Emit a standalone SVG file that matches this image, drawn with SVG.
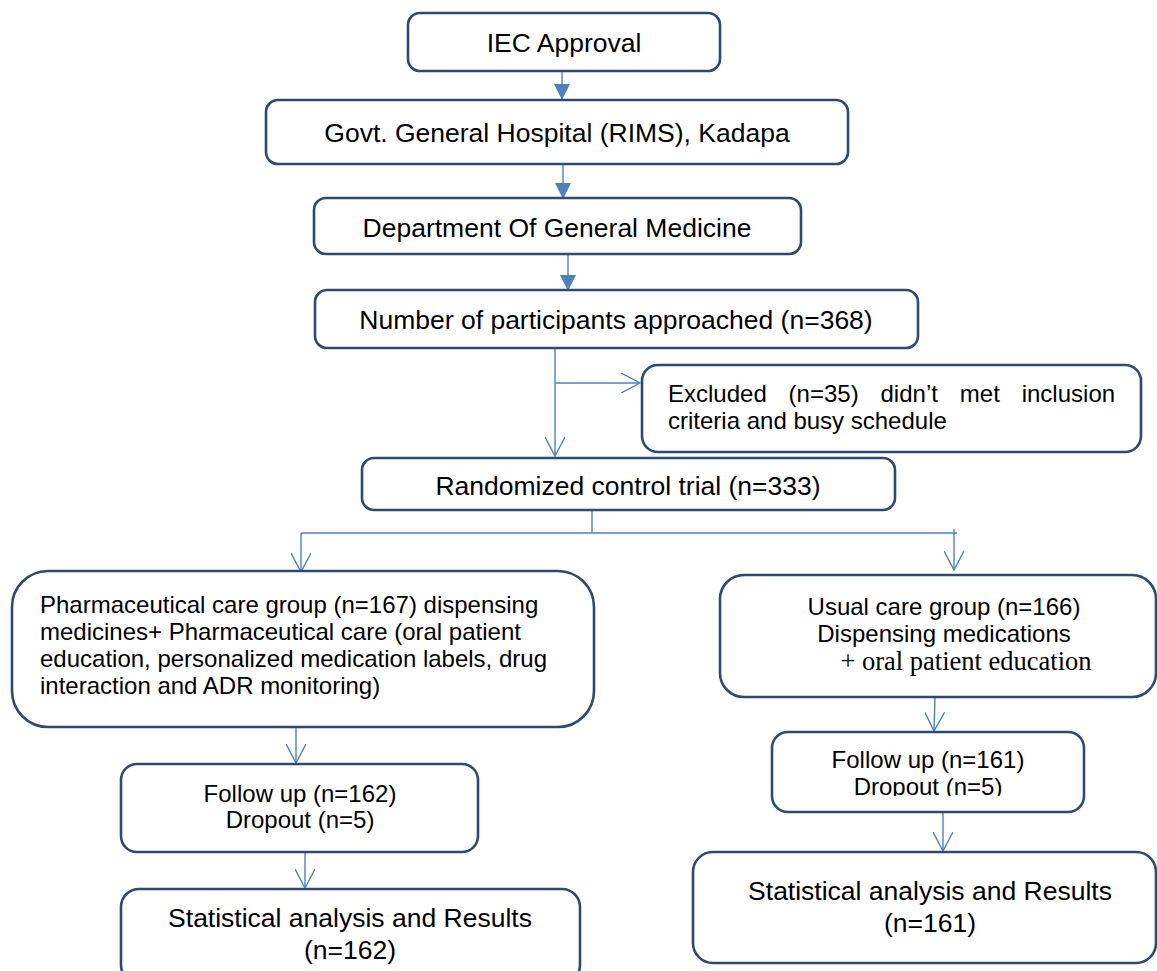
<svg xmlns="http://www.w3.org/2000/svg" width="1157" height="971" viewBox="0 0 1157 971">
  <defs>
    <style>
      .box { fill: #ffffff; stroke: #2e4a70; stroke-width: 2.6; }
      .t { font-family: "Liberation Sans", Arial, sans-serif; fill: #000000; }
      .big { font-size: 26.5px; }
      .sm { font-size: 24px; }
      .serif { font-family: "Liberation Serif", "Times New Roman", serif; font-size: 26.5px; fill: #000000; }
      .c { stroke: #4f81bd; stroke-width: 1.4; fill: none; }
    </style>
    <marker id="solid" viewBox="0 0 16 16" markerWidth="16" markerHeight="16" refX="15" refY="8" orient="auto" markerUnits="userSpaceOnUse">
      <path d="M0,0 L16,8 L0,16 Z" fill="#4f81bd"/>
    </marker>
    <marker id="open" viewBox="0 0 20 20" markerWidth="20" markerHeight="20" refX="19" refY="10" orient="auto" markerUnits="userSpaceOnUse">
      <path d="M0,0 L19,10 L0,20" fill="none" stroke="#4f81bd" stroke-width="1.4"/>
    </marker>
    <clipPath id="clipDrop">
      <rect x="772" y="732" width="312" height="64"/>
    </clipPath>
  </defs>

  <g id="connectors">
    <line class="c" x1="562" y1="71" x2="562" y2="99" marker-end="url(#solid)"/>
    <line class="c" x1="563" y1="164" x2="563" y2="198" marker-end="url(#solid)"/>
    <line class="c" x1="568" y1="254" x2="568" y2="290" marker-end="url(#solid)"/>
    <line class="c" x1="555" y1="348" x2="555" y2="456" marker-end="url(#open)"/>
    <line class="c" x1="555" y1="383" x2="640" y2="383" marker-end="url(#open)"/>
    <line class="c" x1="592" y1="510" x2="592" y2="533"/>
    <line class="c" x1="301" y1="533" x2="957" y2="533"/>
    <line class="c" x1="301" y1="533" x2="301" y2="572" marker-end="url(#open)"/>
    <line class="c" x1="954" y1="529" x2="954" y2="570" marker-end="url(#open)"/>
    <line class="c" x1="296" y1="727" x2="296" y2="763" marker-end="url(#open)"/>
    <line class="c" x1="305" y1="852" x2="305" y2="888" marker-end="url(#open)"/>
    <line class="c" x1="935" y1="697" x2="934" y2="731" marker-end="url(#open)"/>
    <line class="c" x1="943" y1="812" x2="943" y2="851" marker-end="url(#open)"/>
  </g>

  <g id="iec">
    <rect class="box" x="408" y="13" width="312" height="58" rx="12"/>
    <text class="t big" x="564" y="52" text-anchor="middle">IEC Approval</text>
  </g>

  <g id="hospital">
    <rect class="box" x="266" y="100" width="582" height="64" rx="12"/>
    <text class="t big" x="557" y="142" text-anchor="middle">Govt. General Hospital (RIMS), Kadapa</text>
  </g>

  <g id="department">
    <rect class="box" x="314" y="198" width="487" height="56" rx="12"/>
    <text class="t big" x="557" y="237" text-anchor="middle">Department Of General Medicine</text>
  </g>

  <g id="approached">
    <rect class="box" x="315" y="290" width="603" height="58" rx="12"/>
    <text class="t big" x="616" y="329" text-anchor="middle">Number of participants approached (n=368)</text>
  </g>

  <g id="excluded">
    <rect class="box" x="642" y="365" width="499" height="87" rx="16"/>
    <text class="t sm" y="402"><tspan x="668">Excluded</tspan><tspan x="788.6">(n=35)</tspan><tspan x="880.5">didn’t</tspan><tspan x="959.8">met</tspan><tspan x="1021.7">inclusion</tspan></text>
    <text class="t sm" x="668" y="429">criteria and busy schedule</text>
  </g>

  <g id="randomized">
    <rect class="box" x="362" y="458" width="533" height="52" rx="12"/>
    <text class="t big" x="628" y="495" text-anchor="middle">Randomized control trial (n=333)</text>
  </g>

  <g id="pharma-care">
    <rect class="box" x="12" y="571" width="582" height="156" rx="36"/>
    <text class="t sm" x="40" y="613">Pharmaceutical care group (n=167) dispensing</text>
    <text class="t sm" x="40" y="640">medicines+ Pharmaceutical care (oral patient</text>
    <text class="t sm" x="40" y="667">education, personalized medication labels, drug</text>
    <text class="t sm" x="40" y="694">interaction and ADR monitoring)</text>
  </g>

  <g id="usual-care">
    <rect class="box" x="720" y="575" width="436" height="122" rx="24"/>
    <text class="t sm" x="944" y="615" text-anchor="middle">Usual care group (n=166)</text>
    <text class="t sm" x="944" y="642" text-anchor="middle">Dispensing medications</text>
    <text class="serif" x="966" y="670" text-anchor="middle">+ oral patient education</text>
  </g>

  <g id="followup-left">
    <rect class="box" x="121" y="764" width="357" height="88" rx="16"/>
    <text class="t sm" x="300" y="802" text-anchor="middle">Follow up (n=162)</text>
    <text class="t sm" x="300" y="828" text-anchor="middle">Dropout (n=5)</text>
  </g>

  <g id="followup-right">
    <rect class="box" x="772" y="732" width="312" height="80" rx="16"/>
    <text class="t sm" x="928" y="768" text-anchor="middle">Follow up (n=161)</text>
    <text class="t sm" x="928" y="795" text-anchor="middle" clip-path="url(#clipDrop)">Dropout (n=5)</text>
  </g>

  <g id="results-left">
    <rect class="box" x="121" y="889" width="459" height="94" rx="18"/>
    <text class="t big" x="350" y="927" text-anchor="middle">Statistical analysis and Results</text>
    <text class="t big" x="350" y="959" text-anchor="middle">(n=162)</text>
  </g>

  <g id="results-right">
    <rect class="box" x="693" y="852" width="463" height="111" rx="20"/>
    <text class="t big" x="930" y="900" text-anchor="middle">Statistical analysis and Results</text>
    <text class="t big" x="930" y="932" text-anchor="middle">(n=161)</text>
  </g>
</svg>
